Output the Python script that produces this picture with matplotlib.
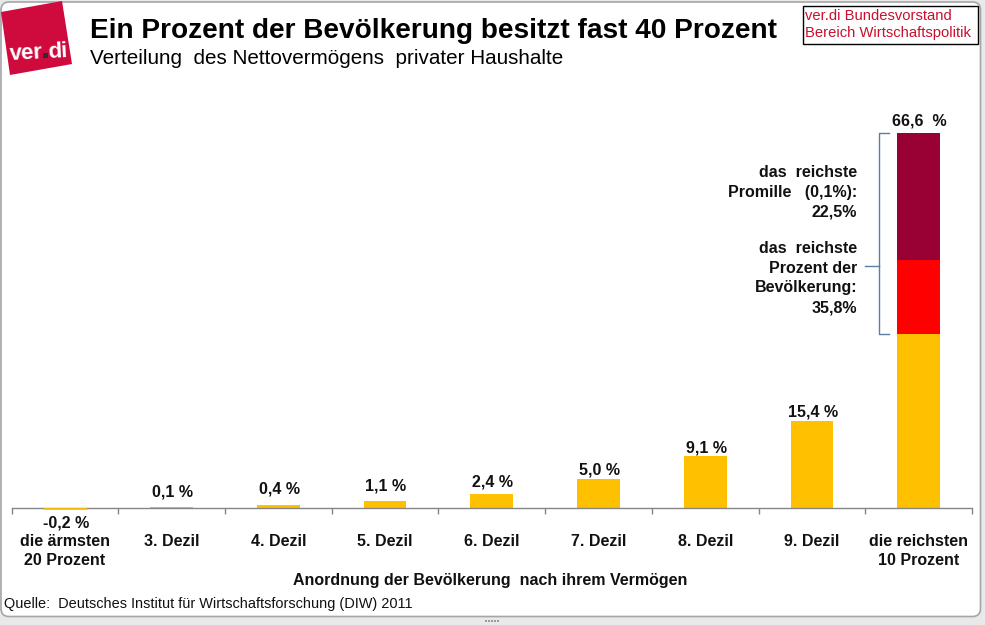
import numpy as np
import matplotlib
matplotlib.use('Agg')
import matplotlib.pyplot as plt
from matplotlib.patches import FancyBboxPatch, Polygon, Rectangle

# Daten
kategorien = ['die ärmsten\n20 Prozent', '3. Dezil', '4. Dezil', '5. Dezil', '6. Dezil',
              '7. Dezil', '8. Dezil', '9. Dezil', 'die reichsten\n10 Prozent']
werte = [-0.2, 0.1, 0.4, 1.1, 2.4, 5.0, 9.1, 15.4, 30.8]
reichstes_prozent = [0, 0, 0, 0, 0, 0, 0, 0, 13.3]
reichstes_promille = [0, 0, 0, 0, 0, 0, 0, 0, 22.5]
wert_labels = ['-0,2 %', '0,1 %', '0,4 %', '1,1 %', '2,4 %', '5,0 %', '9,1 %', '15,4 %', '66,6  %']

plt.rcParams['font.family'] = ['Liberation Sans', 'DejaVu Sans']

W, H = 985, 625
fig = plt.figure(figsize=(W / 100, H / 100), dpi=100, facecolor='#e9e9e9')
dunkel = '#111111'

# Hintergrund in Pixelkoordinaten
bg = fig.add_axes([0, 0, 1, 1])
bg.set_xlim(0, W)
bg.set_ylim(H, 0)
bg.axis('off')
bg.add_patch(FancyBboxPatch((1, 2), 979.5, 614.5, boxstyle='round,pad=0,rounding_size=8',
                            fc='white', ec='#a6a6a6', lw=1.2))
bg.add_patch(Polygon([(1, 12), (62, 1), (72, 64), (10, 75)], fc='#cf0a3c', ec='none'))
bg.text(9.5, 59.5, 'ver', color='white', fontsize=16, fontweight='bold', va='baseline',
        rotation=3, rotation_mode='anchor')
bg.add_patch(Rectangle((42.5, 53), 5, 5, fc='#2e2e2e', ec='none', zorder=4))
bg.text(48, 57.5, 'di', color='white', fontsize=16, fontweight='bold', va='baseline',
        rotation=3, rotation_mode='anchor')

bg.text(90, 30.5, 'Ein Prozent der Bevölkerung besitzt fast 40 Prozent', fontsize=20.2,
        fontweight='bold', color='black', ha='left', va='center')
bg.text(90, 59, 'Verteilung  des Nettovermögens  privater Haushalte', fontsize=14.9,
        color='black', ha='left', va='center')

bg.add_patch(Rectangle((803, 5.5), 175, 38, fc='white', ec='black', lw=1))
bg.text(805, 16, 'ver.di Bundesvorstand', fontsize=10.6, color='#c8102e', va='center')
bg.text(805, 33, 'Bereich Wirtschaftspolitik', fontsize=10.6, color='#c8102e', va='center')

bg.text(4, 604, 'Quelle:  Deutsches Institut für Wirtschaftsforschung (DIW) 2011', fontsize=10.48,
        color=dunkel, va='center')
bg.text(490, 580, 'Anordnung der Bevölkerung  nach ihrem Vermögen', fontsize=11.5,
        fontweight='bold', ha='center', va='center', color=dunkel)

# Griff am unteren Rand
for gx in range(485, 498, 3):
    bg.add_patch(Rectangle((gx, 620), 2, 2, fc='#9a9a9a', ec='none'))

# Diagramm
px_pro_einheit = 5.62
y0, oben, unten = 507.5, 100, 530
ax = fig.add_axes([11.5 / W, 1 - unten / H, (972 - 11.5) / W, (unten - oben) / H])
ax.patch.set_alpha(0)
ax.set_xlim(0, 9)
ax.set_ylim(-(unten - y0) / px_pro_einheit, (y0 - oben) / px_pro_einheit)

x = np.arange(9) + 0.5
werte = np.array(werte)
prozent = np.array(reichstes_prozent)
promille = np.array(reichstes_promille)
balken = ax.bar(x, werte, 0.4, color='#ffc000')
balken[0].set_zorder(5)
balken[0].set_edgecolor('#ffc000')
balken[0].set_linewidth(0.6)
ax.bar(x, prozent, 0.4, bottom=werte, color='#ff0000')
ax.bar(x, promille, 0.4, bottom=werte + prozent, color='#990033')

for s in ['top', 'left', 'right']:
    ax.spines[s].set_visible(False)
ax.spines['bottom'].set_position(('data', 0))
ax.spines['bottom'].set_color('#868686')
ax.spines['bottom'].set_linewidth(1)
ax.set_yticks([])
ax.set_xticks(np.arange(10))
ax.set_xticklabels([])
ax.tick_params(axis='x', direction='out', length=4, width=1, color='#868686')

# Beschriftung: Abstand zum Balkenende wie im Original unregelmaessig
abstand = [-16, 15, 16, 15, 12, 9, 8, 9, 12]
gesamt = werte + prozent + promille
for i in range(9):
    bezug = max(gesamt[i], 0)
    ax.annotate(wert_labels[i], (x[i], bezug), xytext=(1, abstand[i]), textcoords='offset pixels',
                ha='center', va='center', fontsize=11.5, fontweight='bold', color=dunkel)
    ax.annotate(kategorien[i], (x[i], 0), xytext=(0, -27), textcoords='offset pixels',
                ha='center', va='top', fontsize=11.5, fontweight='bold', color=dunkel,
                linespacing=1.3)

# Klammer
klammer = '#5b7f9f'
xk1, xk2, xk0 = 8.125, 8.225, 8.0
yk_oben, yk_unten = gesamt[8], werte[8]
yk_mitte = 43.0
ax.plot([xk2, xk1, xk1, xk2], [yk_oben, yk_oben, yk_unten, yk_unten], color=klammer, lw=1)
ax.plot([xk0, xk1], [yk_mitte, yk_mitte], color=klammer, lw=1)

bg.text(857, 192, 'das  reichste\nPromille   (0,1%):\n22,5%', fontsize=11.5, fontweight='bold',
        ha='right', va='center', color=dunkel, linespacing=1.39, zorder=5)
bg.text(857, 278, 'das  reichste\nProzent der\nBevölkerung:\n35,8%', fontsize=11.5, fontweight='bold',
        ha='right', va='center', color=dunkel, linespacing=1.39, zorder=5)

fig.savefig('out.png', dpi=100, facecolor=fig.get_facecolor())
